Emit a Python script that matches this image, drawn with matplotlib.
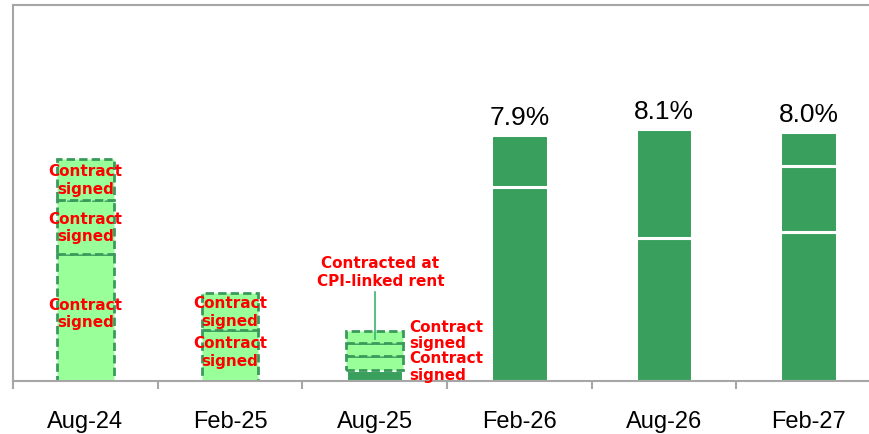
import matplotlib
matplotlib.use("Agg")
import matplotlib.pyplot as plt
import numpy as np

categories = ["Aug-24", "Feb-25", "Aug-25", "Feb-26", "Aug-26", "Feb-27"]

# stacked segment values (% units), bottom to top
light_segments = {
    "Aug-24": [4.08, 1.74, 1.32],
    "Feb-25": [1.64, 1.19],
    "Aug-25": [0.45, 0.42, 0.39],
}
dark_segments = {
    "Aug-25": [0.35],
    "Feb-26": [6.24, 1.66],
    "Aug-26": [4.60, 3.50],
    "Feb-27": [4.80, 2.10, 1.10],
}
total_labels = {"Feb-26": "7.9%", "Aug-26": "8.1%", "Feb-27": "8.0%"}

LIGHT = "#99FF99"
EDGE = "#3A9A5C"
DARK = "#38A05C"
RED = "#FF0000"
GRAY = "#A6A6A6"

fig = plt.figure(figsize=(8.7, 4.35), dpi=100)
ax = fig.add_axes([13 / 870, 53 / 435, 868 / 870, 376 / 435])

x = np.arange(len(categories))
width = 0.39

for i, cat in enumerate(categories):
    bottom = 0.0
    for v in dark_segments.get(cat, []):
        ax.bar(i, v, width=width, bottom=bottom, color=DARK,
               edgecolor="white", linewidth=2.2, zorder=2)
        bottom += v
    for v in light_segments.get(cat, []):
        ax.bar(i, v, width=width, bottom=bottom, color=LIGHT,
               edgecolor=EDGE, linewidth=2.0, linestyle=(0, (3, 1.5)), zorder=2)
        bottom += v
    if cat in total_labels:
        ax.text(i, bottom + 0.2, total_labels[cat], ha="center", va="bottom",
                fontsize=19, family="Liberation Sans", color="black")

lab_kw = dict(color=RED, fontsize=11, fontweight="bold", family="DejaVu Sans",
              zorder=5)

# Aug-24 labels
b = 0.0
for v in light_segments["Aug-24"]:
    ax.text(0, b + v / 2 + (0.15 if b == 0 else 0), "Contract\nsigned",
            ha="center", va="center", linespacing=1.2, **lab_kw)
    b += v
# Feb-25 labels
b = 0.0
for v in light_segments["Feb-25"]:
    ax.text(1, b + v / 2 + (0.13 if b == 0 else 0), "Contract\nsigned",
            ha="center", va="center", linespacing=1.2, **lab_kw)
    b += v
# Aug-25 labels
ax.text(2.24, 1.50, "Contract\nsigned", ha="left", va="center",
        linespacing=1.1, **lab_kw)
ax.text(2.24, 0.48, "Contract\nsigned", ha="left", va="center",
        linespacing=1.1, **lab_kw)
ax.text(2.04, 3.52, "Contracted at\nCPI-linked rent", ha="center", va="center",
        linespacing=1.3, **lab_kw)
ax.plot([2.0, 2.0], [1.35, 2.86], color="#3CB371", linewidth=1.2, zorder=4)

ax.set_xlim(-0.5, 5.5)
ax.set_ylim(0, 12.09)

ax.set_xticks(x)
ax.set_xticklabels(categories, fontsize=17, family="Liberation Sans")
ax.tick_params(axis="x", which="major", length=0, pad=21)
ax.set_xticks(np.arange(-0.5, 6.0, 1.0), minor=True)
ax.tick_params(axis="x", which="minor", length=6, width=1.5, color=GRAY)
ax.set_yticks([])

for s in ["left", "bottom", "top"]:
    ax.spines[s].set_color(GRAY)
    ax.spines[s].set_linewidth(1.5)
ax.spines["right"].set_visible(False)

fig.savefig("out.png", dpi=100)
